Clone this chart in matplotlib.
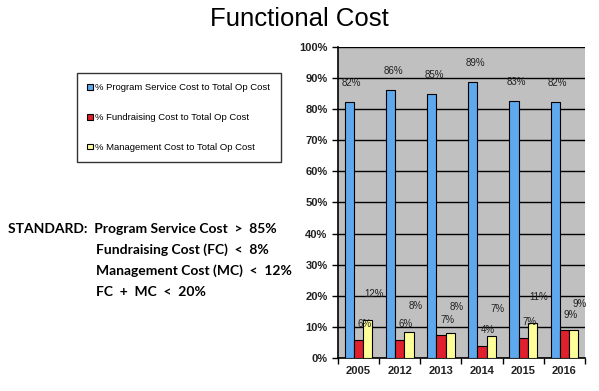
import numpy as np
import matplotlib.pyplot as plt
from matplotlib.ticker import FuncFormatter

# Values
years = ['2005', '2012', '2013', '2014', '2015', '2016']
program = [82.3, 86.2, 84.9, 88.8, 82.7, 82.3]
fundraising = [5.8, 5.8, 7.3, 3.9, 6.5, 8.9]
management = [12.1, 8.3, 8.0, 7.2, 11.1, 8.9]
program_lbl = ['82%', '86%', '85%', '89%', '83%', '82%']
fund_lbl = ['6%', '6%', '7%', '4%', '7%', '9%']
mgmt_lbl = ['12%', '8%', '8%', '7%', '11%', '9%']

series_names = ['% Program Service Cost to Total Op Cost',
                '% Fundraising Cost to Total Op Cost',
                '% Management Cost to Total Op Cost']
colors = ['#5ea8ee', '#e0202c', '#ffff99']

plt.rcParams['font.family'] = ['Liberation Sans', 'DejaVu Sans']

fig = plt.figure(figsize=(5.99, 3.91), dpi=100)
ax = fig.add_axes([0.5643, 0.0844, 0.4123, 0.7954])

x = np.arange(len(years))
w = 0.225
b1 = ax.bar(x - w, program, w, color=colors[0], edgecolor='black', linewidth=0.8, zorder=3)
b2 = ax.bar(x, fundraising, w, color=colors[1], edgecolor='black', linewidth=0.8, zorder=3)
b3 = ax.bar(x + w, management, w, color=colors[2], edgecolor='black', linewidth=0.8, zorder=3)

# data labels (placed a little above and right like the original)
for i in range(len(years)):
    ax.text(x[i] - w + 0.06, program[i] + 6, program_lbl[i], ha='center', va='center',
            fontsize=7, color='#222222', zorder=4)
    ax.text(x[i] + 0.15, fundraising[i] + 5, fund_lbl[i], ha='center', va='center',
            fontsize=7, color='#222222', zorder=4)
    ax.text(x[i] + w + 0.15, management[i] + 8.5, mgmt_lbl[i], ha='center', va='center',
            fontsize=7, color='#222222', zorder=4)

ax.set_facecolor('#c0c0c0')
ax.set_xlim(-0.5, len(years) - 0.5)
ax.set_ylim(0, 100)
ax.set_yticks(np.arange(0, 101, 10))
ax.yaxis.set_major_formatter(FuncFormatter(lambda v, p: '%d%%' % v))
ax.grid(axis='y', color='black', linewidth=1.0, zorder=1)
ax.set_xticks(x)
ax.set_xticklabels(years, fontsize=8, fontweight='bold', color='#222222')
ax.set_xticks(np.arange(-0.5, len(years), 1), minor=True)
ax.tick_params(axis='x', which='major', length=0, pad=6)
ax.tick_params(axis='x', which='minor', length=4, width=1, direction='out')
ax.tick_params(axis='y', labelsize=8, length=4, width=1, colors='black')
for lbl in ax.get_yticklabels():
    lbl.set_fontweight('bold')
    lbl.set_color('#222222')
for side in ['top', 'right']:
    ax.spines[side].set_visible(False)
ax.spines['left'].set_linewidth(1.2)
ax.spines['bottom'].set_linewidth(1.2)

# legend on the left
fig.legend([b1, b2, b3], series_names, loc='upper left',
           bbox_to_anchor=(77 / 599, 1 - 73 / 391), fontsize=6.8,
           frameon=True, fancybox=False, edgecolor='black',
           handlelength=0.55, handleheight=0.55, labelspacing=2.2,
           borderpad=1.1, handletextpad=0.3, borderaxespad=0)

fig.text(0.5, 1 - 19 / 391, 'Functional Cost', ha='center', va='center', fontsize=18.5)

std_font = dict(fontsize=10, fontweight='bold', family=['Lato', 'DejaVu Sans'], va='center')
fig.text(8 / 599, 1 - 229 / 391, 'STANDARD:  Program Service Cost  >  85%', **std_font)
fig.text(96 / 599, 1 - 250 / 391, 'Fundraising Cost (FC)  <  8%', **std_font)
fig.text(96 / 599, 1 - 271 / 391, 'Management Cost (MC)  <  12%', **std_font)
fig.text(96 / 599, 1 - 292 / 391, 'FC  +  MC  <  20%', **std_font)

plt.savefig('out.png', dpi=100)
